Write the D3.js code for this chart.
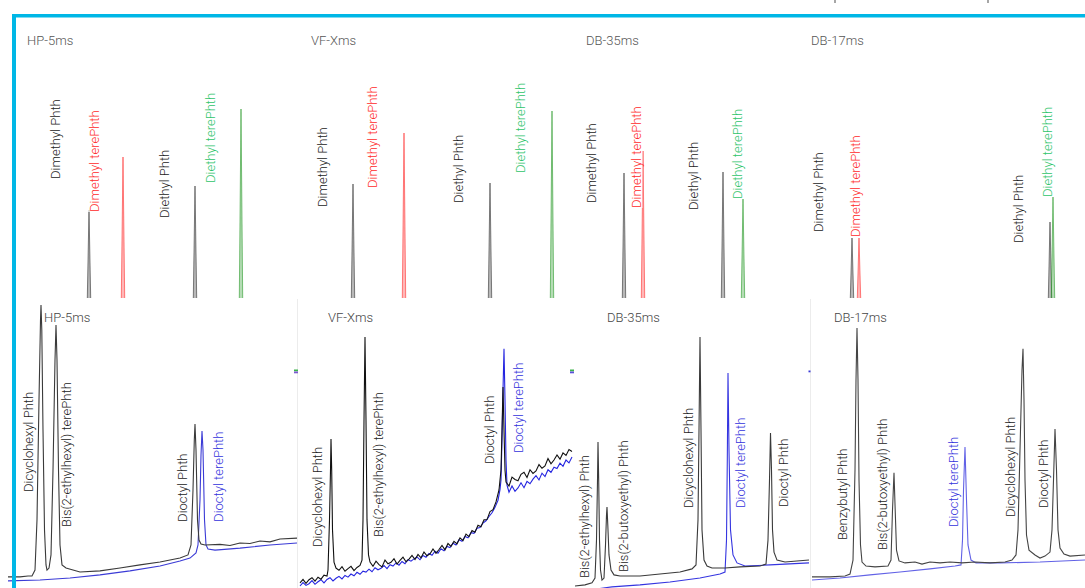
<!DOCTYPE html>
<html>
<head>
<meta charset="utf-8">
<script src="https://cdn.jsdelivr.net/npm/d3@7"></script>
<style>
  body { margin: 0; background: #fff; }
  svg text { font-family: Roboto, "Noto Sans", sans-serif; font-weight: 300; }
</style>
</head>
<body>
<div class="canvas"></div>
<script>
// column (GC phase) names
const columns = ['HP-5ms', 'VF-Xms', 'DB-35ms', 'DB-17ms'];

// top row: short chain compounds, retention time (min) and abundance per column
const shortNames = ['Dimethyl Phth', 'Dimethyl terePhth', 'Diethyl Phth', 'Diethyl terePhth'];
const shortKinds = ['phth', 'dmt', 'phth', 'det'];
const shortTimes = [
  [7.3, 10.7, 17.9, 22.5],
  [5.3, 10.4, 19.0, 25.2],
  [4.9, 6.8, 14.8, 16.8],
  [5.2, 5.9, 25.0, 25.3]
];
const shortHeights = [
  [44, 70.5, 56, 94.5],
  [57, 82.5, 57.5, 93.5],
  [62.5, 73.5, 63, 49.5],
  [30, 30, 38, 50.5]
];
// where each peak name sits (time, abundance)
const shortLabelTimes = [
  [4.35, 8.25, 15.25, 19.85],
  [2.65, 7.65, 16.25, 22.45],
  [2.05, 6.55, 12.25, 16.65],
  [2.25, 5.95, 22.25, 25.15]
];
const shortLabelHeights = [
  [59.5, 43, 40, 57.5],
  [45.5, 55, 47.5, 62.5],
  [47.5, 45, 44, 49.5],
  [33, 30.5, 27.5, 50.5]
];

// bottom row: long chain traces [time, abundance]
const hp5Black = [[0,3.9],[1.2,3.9],[2.0,4.2],[2.4,4.2],[2.7,6.3],[2.9,23.9],[3.1,66],[3.25,94],[3.3,99.3],[3.38,90.5],[3.5,55.4],[3.65,20.4],[3.8,8.1],[3.9,6.3],[4.1,7.0],[4.3,11.6],[4.5,41.4],[4.7,80],[4.8,92.3],[4.9,80],[5.05,41.4],[5.2,15.1],[5.4,8.1],[5.8,7.0],[7.2,5.6],[9.2,6.0],[11.2,7.0],[13.2,8.1],[15.2,9.1],[17.2,10.5],[18.0,11.6],[18.3,15.1],[18.5,34.4],[18.63,51.9],[18.7,57.5],[18.8,48.4],[18.95,23.9],[19.1,16.8],[19.3,15.4],[19.7,15.1],[21.2,15.3],[22.2,14.9],[23.2,15.8],[24.2,15.6],[25.2,16.5],[26.2,16.2],[27.2,17.2],[28.9,17.5]];
const hp5Blue = [[0,2.5],[3.2,2.8],[6.2,3.5],[9.2,4.6],[12.2,6.0],[15.2,7.7],[17.2,9.5],[18.2,10.5],[18.8,12.3],[19.0,15.1],[19.2,30.9],[19.3,46.7],[19.4,55.1],[19.5,48.4],[19.65,23.9],[19.8,15.1],[20.0,13.7],[20.7,13.3],[23.2,14.0],[26.2,15.1],[28.9,15.8]];

const vfxBlack = [[0,1.8],[0.3,3.0],[0.6,1.6],[0.9,2.9],[1.2,3.6],[1.5,2.4],[1.8,3.8],[2.1,3.1],[2.4,4.5],[2.7,4.2],[2.8,6.3],[2.95,23.9],[3.05,41.4],[3.1,52.3],[3.17,41.4],[3.25,20.4],[3.4,9.1],[3.6,7.0],[3.9,6.2],[4.2,7.5],[4.5,5.9],[4.8,6.8],[5.1,7.6],[5.4,6.1],[5.7,7.2],[6.0,7.9],[6.2,9.8],[6.3,23.9],[6.4,58.9],[6.5,88.1],[6.6,58.9],[6.7,23.9],[6.85,11.6],[7.0,9.1],[7.3,7.6],[7.6,9.4],[7.9,8.2],[8.2,7.4],[8.5,9.8],[8.8,8.5],[9.1,9.0],[9.4,10.3],[9.7,8.4],[10.0,9.7],[10.3,10.8],[10.6,9.2],[10.9,10.1],[11.2,11.4],[11.5,10.0],[11.8,11.8],[12.1,10.6],[12.4,12.6],[12.7,11.3],[13.0,12.0],[13.3,13.7],[13.6,12.2],[13.9,13.5],[14.2,14.9],[14.5,13.4],[14.8,15.6],[15.1,14.6],[15.4,16.4],[15.7,15.5],[16.0,17.6],[16.3,16.6],[16.6,18.9],[16.9,18.0],[17.2,20.2],[17.5,19.6],[17.8,22.0],[18.1,21.5],[18.4,23.9],[18.7,24.0],[19.0,26.8],[19.3,27.5],[19.6,30.2],[19.9,34.4],[20.1,41.4],[20.2,55.4],[20.3,70.5],[20.4,55.4],[20.5,41.4],[20.6,37.2],[20.9,35.8],[21.2,38.9],[21.5,38.1],[21.8,37.6],[22.1,39.9],[22.4,40.6],[22.7,38.8],[23.0,41.5],[23.3,40.2],[23.6,41.1],[23.9,43.3],[24.2,42.0],[24.5,42.8],[24.8,45.4],[25.1,43.6],[25.4,44.9],[25.7,46.7],[26.0,45.2],[26.3,47.4],[26.6,46.5],[26.9,48.6],[27.2,47.9]];
const vfxBlue = [[0,0.7],[0.3,1.9],[0.6,0.9],[0.9,1.5],[1.2,2.6],[1.5,1.3],[1.8,2.2],[2.1,2.9],[2.4,1.8],[2.7,3.0],[3.0,3.6],[3.3,2.5],[3.6,3.4],[3.9,4.1],[4.2,3.2],[4.5,4.4],[4.8,3.8],[5.1,4.9],[5.4,4.3],[5.7,5.5],[6.0,4.8],[6.3,5.9],[6.6,5.6],[6.9,6.6],[7.2,5.7],[7.5,7.1],[7.8,6.4],[8.1,6.9],[8.4,7.9],[8.7,6.8],[9.0,8.2],[9.3,7.7],[9.6,8.8],[9.9,8.0],[10.2,9.3],[10.5,8.5],[10.8,9.9],[11.1,9.4],[11.4,10.2],[11.7,10.9],[12.0,9.9],[12.3,11.4],[12.6,10.8],[12.9,12.1],[13.2,11.5],[13.5,12.9],[13.8,12.2],[14.1,13.8],[14.4,13.1],[14.7,14.6],[15.0,14.2],[15.3,15.7],[15.6,15.1],[15.9,16.9],[16.2,16.4],[16.5,18.1],[16.8,17.6],[17.1,19.4],[17.4,19.2],[17.7,21.0],[18.0,21.2],[18.3,22.8],[18.6,23.6],[18.9,25.1],[19.2,26.4],[19.5,28.3],[19.8,30.8],[20.0,34.5],[20.1,37.9],[20.2,51.9],[20.3,69.5],[20.4,83.9],[20.5,66.0],[20.6,44.9],[20.7,36.1],[20.9,33.6],[21.2,35.8],[21.5,33.9],[21.8,35.1],[22.1,36.9],[22.4,35.2],[22.7,37.4],[23.0,36.6],[23.3,38.2],[23.6,39.4],[23.9,37.9],[24.2,40.3],[24.5,39.1],[24.8,41.5],[25.1,40.6],[25.4,42.4],[25.7,41.9],[26.0,43.8],[26.3,42.7],[26.6,44.9],[26.9,43.9],[27.2,46.0]];

const db35Black = [[0.2,0.7],[1.2,1.1],[1.9,1.8],[2.2,3.5],[2.35,16.8],[2.45,37.9],[2.5,51.2],[2.57,37.9],[2.65,16.8],[2.75,6.3],[2.9,2.8],[3.1,3.5],[3.25,15.1],[3.35,25.6],[3.4,28.4],[3.48,22.1],[3.6,11.6],[3.8,6.3],[4.1,4.6],[4.7,4.2],[6.7,4.2],[8.7,4.9],[10.7,5.6],[11.9,6.7],[12.3,8.1],[12.5,23.9],[12.6,55.4],[12.7,88.1],[12.8,55.4],[12.9,20.4],[13.1,9.8],[13.4,7.7],[13.9,7.0],[15.2,7.0],[16.7,7.4],[18.7,7.7],[19.3,8.4],[19.5,16.8],[19.65,37.9],[19.75,54.4],[19.85,41.4],[19.95,20.4],[20.1,12.6],[20.4,9.8],[21.2,9.1],[23.6,9.8]];
const db35Blue = [[0.2,-1.4],[3.9,0.4],[6.7,1.1],[9.7,2.1],[12.7,3.5],[14.7,4.9],[15.2,5.6],[15.35,16.8],[15.43,44.9],[15.5,75.4],[15.6,48.4],[15.75,20.4],[16.0,11.6],[16.4,8.8],[17.2,7.7],[19.7,8.1],[23.6,8.8]];

const db17Black = [[0,3.9],[1.8,3.9],[3.3,4.2],[3.8,4.9],[4.1,9.8],[4.3,41.4],[4.4,73.0],[4.5,91.2],[4.6,73.0],[4.7,37.9],[4.85,15.1],[5.0,9.1],[5.4,7.7],[6.3,7.4],[7.6,7.7],[7.9,9.8],[8.05,27.4],[8.2,40.4],[8.32,27.4],[8.45,13.3],[8.7,9.5],[9.3,8.8],[10.3,9.1],[11.0,8.4],[11.8,9.1],[12.8,8.8],[13.8,9.1],[15.0,8.8],[16.3,9.1],[17.8,8.8],[19.3,9.1],[20.0,9.8],[20.4,11.6],[20.6,20.4],[20.8,48.4],[21.0,76.5],[21.1,83.9],[21.2,66.0],[21.3,37.9],[21.45,18.6],[21.7,13.3],[22.3,11.6],[22.8,10.5],[23.3,11.2],[23.8,12.6],[24.0,20.4],[24.15,37.9],[24.3,55.8],[24.45,41.4],[24.6,20.4],[24.8,14.0],[25.2,11.9],[25.8,11.2],[27.3,11.6]];
const db17Blue = [[0,2.8],[2.8,3.5],[5.8,4.6],[8.8,5.6],[11.8,6.7],[14.3,7.7],[14.9,8.1],[15.05,16.8],[15.15,34.4],[15.3,49.5],[15.45,30.9],[15.6,15.1],[15.9,9.8],[16.4,8.8],[18.8,8.8],[22.8,9.1],[27.3,9.8]];

const longBlack = [hp5Black, vfxBlack, db35Black, db17Black];
const longBlue = [hp5Blue, vfxBlue, db35Blue, db17Blue];

const longNames = [
  ['Dicyclohexyl Phth', 'Bis(2-ethylhexyl) terePhth', 'Dioctyl Phth', 'Dioctyl terePhth'],
  ['Dicyclohexyl Phth', 'Bis(2-ethylhexyl) terePhth', 'Dioctyl Phth', 'Dioctyl terePhth'],
  ['Bis(2-ethylhexyl) Phth', 'Bis(2-butoxyethyl) Phth', 'Dicyclohexyl Phth', 'Dioctyl terePhth', 'Dioctyl Phth'],
  ['Benzybutyl Phth', 'Bis(2-butoxyethyl) Phth', 'Dioctyl terePhth', 'Dicyclohexyl Phth', 'Dioctyl Phth']
];
// 1 = terephthalate (blue trace)
const longLabelSeries = [[0, 0, 0, 1], [0, 0, 0, 1], [0, 0, 0, 1, 0], [0, 0, 1, 0, 0]];
const longLabelTimes = [
  [2.45, 6.25, 17.85, 21.45],
  [2.15, 8.25, 19.35, 22.25],
  [1.55, 5.45, 11.95, 17.15, 21.45],
  [3.45, 7.45, 14.55, 20.25, 23.55]
];
const longLabelHeights = [
  [33.7, 21.4, 23.2, 23.2],
  [14.4, 17.9, 43.5, 47.4],
  [3.5, 5.6, 28.1, 28.1, 28.4],
  [16.8, 13.3, 21.4, 24.9, 28.1]
];

// ---- layout ----
const width = 1085, height = 588;
const topCols = [[16, 300], [300, 575], [575, 800], [800, 1085]];
const botCols = [[8, 297], [300, 572], [573, 809], [812, 1085]];

const peakColor = { phth: '#333', dmt: '#ff3030', det: '#2a9a2a' };
const labelColor = { phth: '#222', dmt: '#ff2a2a', det: '#2ec46a' };
const blueColors = ['#3b3bd6', '#2525e0', '#3535e0', '#6262e6'];
const blackColors = ['#3a3a3a', '#111', '#3a3a3a', '#444'];

const svg = d3.select('.canvas')
  .append('svg')
  .attr('width', width)
  .attr('height', height);

// top row y scale (shared)
const yTop = d3.scaleLinear().domain([0, 100]).range([298, 98]);
// bottom row y scale (shared)
const yBot = d3.scaleLinear().domain([0, 100]).range([588, 303]);

// faint panel edges in the bottom row
svg.selectAll('line.edge')
  .data([297.5, 810.5])
  .enter().append('line')
  .attr('x1', d => d).attr('x2', d => d)
  .attr('y1', 299).attr('y2', 588)
  .attr('stroke', '#ececec');

// ---- top row ----
columns.forEach((col, ci) => {
  const x = d3.scaleLinear()
    .domain([0, (topCols[ci][1] - topCols[ci][0]) / 10])
    .range(topCols[ci]);
  const g = svg.append('g');

  g.append('text')
    .attr('x', topCols[ci][0] + 11)
    .attr('y', 45)
    .attr('font-size', 13)
    .attr('fill', '#555')
    .text(col);

  const peak = d3.line().x(d => x(d[0])).y(d => yTop(d[1]));

  g.selectAll('path.peak')
    .data(shortTimes[ci].map((t, i) => ({ t, h: shortHeights[ci][i], kind: shortKinds[i] })))
    .enter().append('path')
    .attr('class', 'peak')
    .attr('d', d => peak([[d.t - 0.17, 0], [d.t, d.h], [d.t + 0.17, 0]]))
    .attr('fill', d => peakColor[d.kind])
    .attr('fill-opacity', 0.35)
    .attr('stroke', d => peakColor[d.kind])
    .attr('stroke-opacity', 0.75)
    .attr('stroke-width', 0.8);

  const labels = g.selectAll('g.lbl')
    .data(shortNames.map((name, i) => ({ name, kind: shortKinds[i], t: shortLabelTimes[ci][i], h: shortLabelHeights[ci][i] })))
    .enter().append('g')
    .attr('class', 'lbl')
    .attr('transform', d => `translate(${x(d.t)},${yTop(d.h)}) rotate(-90)`);

  labels.append('text')
    .attr('font-size', 13)
    .attr('fill', d => labelColor[d.kind])
    .text(d => d.name);

  // semi-opaque backing so the names sit over the peaks
  labels.each(function () {
    const bb = d3.select(this).select('text').node().getBBox();
    d3.select(this).insert('rect', 'text')
      .attr('x', bb.x).attr('y', bb.y + 1)
      .attr('width', bb.width).attr('height', bb.height - 2)
      .attr('fill', '#fff').attr('fill-opacity', 0.7);
  });
});

// ---- bottom row ----
columns.forEach((col, ci) => {
  const x = d3.scaleLinear()
    .domain([0, (botCols[ci][1] - botCols[ci][0]) / 10])
    .range(botCols[ci]);
  const g = svg.append('g');

  const trace = d3.line().x(d => x(d[0])).y(d => yBot(d[1]));

  g.append('path')
    .attr('d', trace(longBlue[ci]))
    .attr('fill', 'none')
    .attr('stroke', blueColors[ci])
    .attr('stroke-width', 1.1);

  g.append('path')
    .attr('d', trace(longBlack[ci]))
    .attr('fill', 'none')
    .attr('stroke', blackColors[ci])
    .attr('stroke-width', 1.1);

  g.append('text')
    .attr('x', [44, 328, 607, 834][ci])
    .attr('y', 322)
    .attr('font-size', 13)
    .attr('fill', '#444')
    .text(col);

  g.selectAll('text.name')
    .data(longNames[ci].map((name, i) => ({ name, s: longLabelSeries[ci][i], t: longLabelTimes[ci][i], h: longLabelHeights[ci][i] })))
    .enter().append('text')
    .attr('class', 'name')
    .attr('transform', d => `translate(${x(d.t)},${yBot(d.h)}) rotate(-90)`)
    .attr('font-size', 13)
    .attr('fill', d => d.s ? '#3232dc' : '#222')
    .text(d => d.name);
});

// tiny legend swatches left over at the panel edges
const swatches = [[294, 369.5, '#3cb44b'], [294, 371.5, '#7a5ad0'], [570, 369.5, '#3cb44b'], [570, 371.5, '#5a50d8'], [808.5, 370.5, '#3a3ad8']];
svg.selectAll('rect.sw')
  .data(swatches)
  .enter().append('rect')
  .attr('x', d => d[0]).attr('y', d => d[1])
  .attr('width', d => d[0] > 800 ? 2 : 4).attr('height', 1.8)
  .attr('fill', d => d[2]);

// ticks peeking in at the top edge
svg.selectAll('line.peek')
  .data([835, 988])
  .enter().append('line')
  .attr('x1', d => d).attr('x2', d => d)
  .attr('y1', 0).attr('y2', 3)
  .attr('stroke', '#888').attr('stroke-width', 1.5);

// cyan frame
svg.append('rect').attr('x', 12).attr('y', 14).attr('width', width - 12).attr('height', 3.5).attr('fill', '#00b7e6');
svg.append('rect').attr('x', 12).attr('y', 14).attr('width', 4).attr('height', height - 14).attr('fill', '#00b7e6');
</script>
</body>
</html>
